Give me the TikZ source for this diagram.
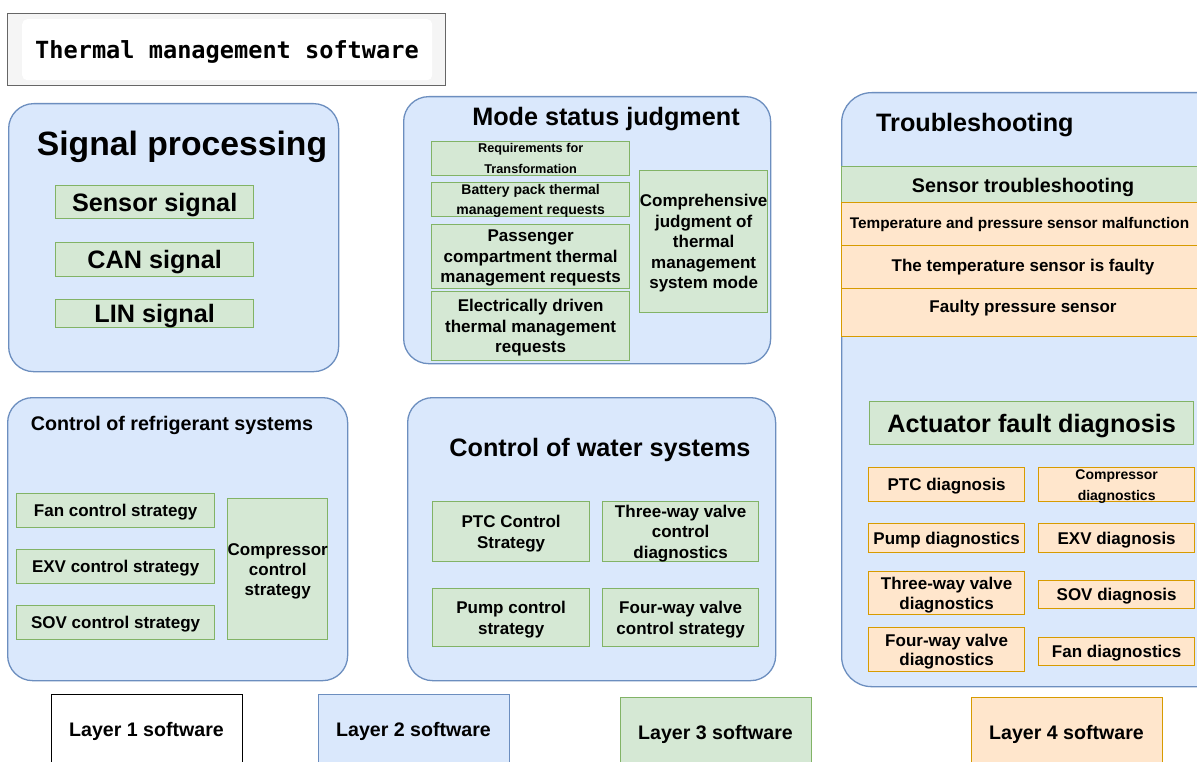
\documentclass[tikz,border=0pt]{standalone}
\usepackage{fontspec}
\setmainfont{Liberation Sans}
\newfontfamily\titlemono{DejaVu Sans Mono}
\definecolor{bfill}{HTML}{DAE8FC}
\definecolor{bline}{HTML}{6C8EBF}
\definecolor{gfill}{HTML}{D5E8D4}
\definecolor{gline}{HTML}{82B366}
\definecolor{ofill}{HTML}{FFE6CC}
\definecolor{oline}{HTML}{D79B00}
\definecolor{tfill}{HTML}{F5F5F5}
\definecolor{tline}{HTML}{666666}
\newcommand\fsz[2]{\fontsize{#1}{#2}\selectfont\bfseries}
\tikzset{
  bigbox/.style={draw=bline, fill=bfill, line width=1.3pt, rounded corners=25pt, anchor=north west, inner sep=0pt},
  gbox/.style={draw=gline, fill=gfill, line width=1.3pt, anchor=north west, inner sep=0pt, align=center, text depth=0pt},
  obox/.style={draw=oline, fill=ofill, line width=1.3pt, anchor=north west, inner sep=0pt, align=center, text depth=0pt},
  txt/.style={inner sep=0pt, align=center, text depth=0pt},
  f17/.style={font=\fsz{17}{20.5}},
  f14/.style={font=\fsz{14}{21}},
  f25/.style={font=\fsz{25.2}{30}},
  legbox/.style={line width=1.3pt, anchor=north west, minimum width=191pt, minimum height=90pt, inner sep=0pt},
}
\begin{document}
\begin{tikzpicture}[x=1pt,y=-1pt]
\useasboundingbox (0,0) rectangle (1197,762);
\clip (0,0) rectangle (1197,762);
\fill[white] (0,0) rectangle (1197,762);

% title
\node[draw=tline, fill=tfill, line width=1pt, anchor=north west, minimum width=438pt, minimum height=72pt, inner sep=0pt] (tbox) at (7,13) {};
\node[fill=white, rounded corners=5pt, anchor=north west, minimum width=410pt, minimum height=61pt, inner sep=0pt] (tinner) at (22,19) {};
\node[txt, font=\titlemono\fontsize{23.6}{28}\selectfont\bfseries] (ttext) at (227,50) {Thermal management software};

% signal processing
\node[bigbox, minimum width=330pt, minimum height=268pt] (sig) at (8,103) {};
\node[txt, font=\fsz{33.7}{40}] (sigt) at (182,143) {Signal processing};
\node[gbox, f25, minimum width=198pt, minimum height=33pt] (ss) at (55,185) {Sensor signal};
\node[gbox, f25, minimum width=198pt, minimum height=34pt] (can) at (55,242) {CAN signal};
\node[gbox, f25, minimum width=198pt, minimum height=28pt] (lin) at (55,299) {LIN signal};

% mode status
\node[bigbox, minimum width=367pt, minimum height=267pt] (mode) at (403,96) {};
\node[txt, f25] (modet) at (606,116) {Mode status judgment};
\node[gbox, font=\fsz{12.7}{21}, minimum width=198pt, minimum height=34pt] (mreq) at (431,141) {Requirements for\\Transformation};
\node[gbox, font=\fsz{14}{20}, minimum width=198pt, minimum height=34pt] (mbat) at (431,182) {Battery pack thermal\\management requests};
\node[gbox, f17, minimum width=198pt, minimum height=64pt] (mpas) at (431,224) {Passenger\\compartment thermal\\management requests};
\node[gbox, f17, minimum width=198pt, minimum height=69pt] (mele) at (431,291) {Electrically driven\\thermal management\\requests};
\node[gbox, f17, minimum width=128pt, minimum height=142pt] (mcomp) at (639,170) {Comprehensive\\judgment of\\thermal\\management\\system mode};

% troubleshooting
\node[bigbox, rounded corners=30pt, minimum width=400pt, minimum height=594pt] (trb) at (841,92) {};
\node[txt, f25, anchor=west] (trbt) at (876,122) {Troubleshooting};
\node[gbox, minimum width=400pt, minimum height=36pt] (sband) at (841,166) {};
\node[txt, font=\fsz{19.7}{24}] (sbandt) at (1023,185) {Sensor troubleshooting};
\node[obox, minimum width=400pt, minimum height=43pt] (r1) at (841,202) {};
\node[txt, font=\fsz{15.4}{19}] (r1t) at (1019.5,222.5) {Temperature and pressure sensor malfunction};
\node[obox, minimum width=400pt, minimum height=43pt] (r2) at (841,245) {};
\node[txt, f17] (r2t) at (1023,265) {The temperature sensor is faulty};
\node[obox, minimum width=400pt, minimum height=48pt] (r3) at (841,288) {};
\node[txt, f17] (r3t) at (1023,306.5) {Faulty pressure sensor};
\node[gbox, f25, minimum width=324pt, minimum height=43pt] (act) at (869,401) {Actuator fault diagnosis};
\node[obox, f17, minimum width=156pt, minimum height=34pt] (ptcd) at (868,467) {PTC diagnosis};
\node[obox, f14, minimum width=156pt, minimum height=34pt] (cmpd) at (1038,467) {Compressor\\diagnostics};
\node[obox, f17, minimum width=156pt, minimum height=29pt] (pumpd) at (868,523) {Pump diagnostics};
\node[obox, f17, minimum width=156pt, minimum height=29pt] (exvd) at (1038,523) {EXV diagnosis};
\node[obox, font=\fsz{17}{19.5}, minimum width=156pt, minimum height=43pt] (thrd) at (868,571) {Three-way valve\\diagnostics};
\node[obox, f17, minimum width=156pt, minimum height=28pt] (sovd) at (1038,580) {SOV diagnosis};
\node[obox, font=\fsz{17}{19.5}, minimum width=156pt, minimum height=44pt] (foud) at (868,627) {Four-way valve\\diagnostics};
\node[obox, f17, minimum width=156pt, minimum height=28pt] (fand) at (1038,637) {Fan diagnostics};

% refrigerant
\node[bigbox, minimum width=340pt, minimum height=283pt] (refr) at (7,397) {};
\node[txt, font=\fsz{19.7}{24}] (refrt) at (172,423) {Control of refrigerant systems};
\node[gbox, f17, minimum width=198pt, minimum height=34pt] (fanc) at (16,493) {Fan control strategy};
\node[gbox, f17, minimum width=198pt, minimum height=34pt] (exvc) at (16,549) {EXV control strategy};
\node[gbox, f17, minimum width=198pt, minimum height=34pt] (sovc) at (16,605) {SOV control strategy};
\node[gbox, font=\fsz{17}{20}, minimum width=99pt, minimum height=141pt] (compc) at (227,498) {Compressor\\control\\strategy};

% water
\node[bigbox, minimum width=368pt, minimum height=283pt] (water) at (407,397) {};
\node[txt, f25] (watert) at (600,447) {Control of water systems};
\node[gbox, font=\fsz{17}{21.5}, minimum width=157pt, minimum height=60pt] (ptcc) at (432,501) {PTC Control\\Strategy};
\node[gbox, f17, minimum width=156pt, minimum height=60pt] (thrc) at (602,501) {Three-way valve\\control\\diagnostics};
\node[gbox, f17, minimum width=157pt, minimum height=58pt] (pumpc) at (432,588) {Pump control\\strategy};
\node[gbox, f17, minimum width=156pt, minimum height=58pt] (fouc) at (602,588) {Four-way valve\\control strategy};

% legend
\node[legbox, draw=black, fill=white] (l1) at (51,694) {};
\node[txt, font=\fsz{19.6}{24}] (l1t) at (146.5,729.5) {Layer 1 software};
\node[legbox, draw=bline, fill=bfill] (l2) at (318,694) {};
\node[txt, font=\fsz{19.6}{24}] (l2t) at (413.5,729.5) {Layer 2 software};
\node[legbox, draw=gline, fill=gfill] (l3) at (620,697) {};
\node[txt, font=\fsz{19.6}{24}] (l3t) at (715.5,732.5) {Layer 3 software};
\node[legbox, draw=oline, fill=ofill] (l4) at (971,697) {};
\node[txt, font=\fsz{19.6}{24}] (l4t) at (1066.5,732.5) {Layer 4 software};
\end{tikzpicture}
\end{document}
